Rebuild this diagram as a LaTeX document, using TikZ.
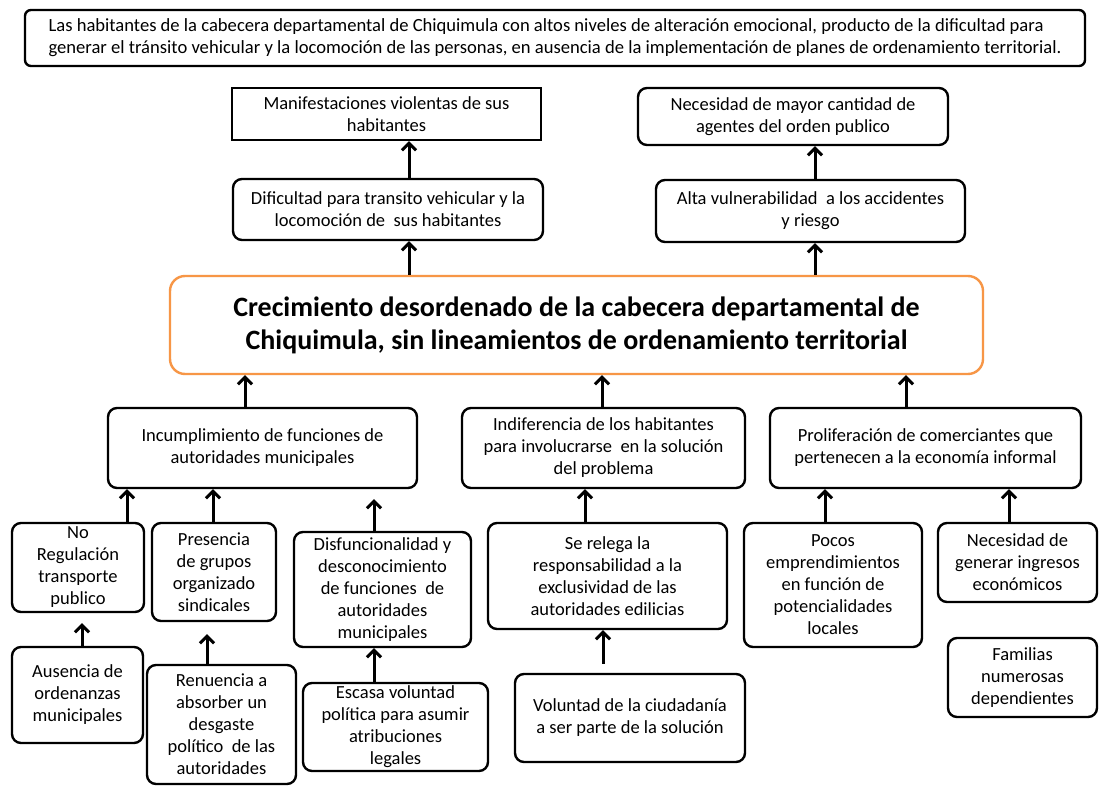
\documentclass[tikz,border=0pt]{standalone}
\usepackage{fontspec}
\setmainfont{Carlito}
\usetikzlibrary{arrows.meta}
\definecolor{boxorange}{RGB}{247,150,70}

\begin{document}
\begin{tikzpicture}
	[x=1pt,y=-1pt,
	 b/.style={draw=black,line width=2.4pt,rounded corners=9pt,align=center,inner sep=0pt,
	   font=\fontsize{18.5}{22}\selectfont},
	 up/.style={line width=3pt,-{Straight Barb[length=7pt,width=14pt]}}]

	\fill[white] (0,0) rectangle (1099,786);
	\useasboundingbox (0,0) rectangle (1099,786);

	% efectos
	\node[b,rounded corners=6pt,minimum width=1060pt,minimum height=56pt,align=left,
		font=\fontsize{18.6}{22}\selectfont]
		(top) at (555,38) {Las habitantes de la cabecera departamental de Chiquimula con altos niveles de alteración emocional, producto de la dificultad para\\
		generar el tránsito vehicular y la locomoción de las personas, en ausencia de la implementación de planes de ordenamiento territorial.};

	\node[b,sharp corners,minimum width=309pt,minimum height=52pt] (man) at (386.5,114)
		{Manifestaciones violentas de sus\\habitantes};
	\node[b,minimum width=310pt,minimum height=61pt] (dif) at (388,209.5)
		{Dificultad para transito vehicular y la\\locomoción de\ \ sus habitantes};
	\node[b,minimum width=310pt,minimum height=57pt] (nec) at (793,116.5)
		{Necesidad de mayor cantidad de\\agentes del orden publico};
	\node[b,minimum width=309pt,minimum height=62pt] (alt) at (810.5,211)
		{Alta vulnerabilidad\ \ a los accidentes\\y riesgo};

	% problema central
	\node[b,draw=boxorange,rounded corners=15pt,minimum width=813pt,minimum height=98pt,
		font=\bfseries\fontsize{28}{33}\selectfont] (cen) at (576.5,325)
		{Crecimiento desordenado de la cabecera departamental de\\
		Chiquimula, sin lineamientos de ordenamiento territorial};

	% causas
	\node[b,minimum width=309pt,minimum height=80pt] (inc) at (262.5,448)
		{Incumplimiento de funciones de\\autoridades municipales};
	\node[b,minimum width=283pt,minimum height=80pt] (ind) at (603.5,448)
		{Indiferencia de los habitantes\\para involucrarse\ \ en la solución\\del problema};
	\node[b,minimum width=311pt,minimum height=80pt] (pro) at (925.5,448)
		{Proliferación de comerciantes que\\pertenecen a la economía informal};

	\node[b,minimum width=132pt,minimum height=89pt] (noreg) at (78,567.5)
		{No\\Regulación\\transporte\\publico};
	\node[b,minimum width=124pt,minimum height=98pt] (pre) at (214,572)
		{Presencia\\de grupos\\organizado\\sindicales};
	\node[b,minimum width=177pt,minimum height=115pt] (dis) at (382.5,589.5)
		{Disfuncionalidad y\\desconocimiento\\de funciones\ \ de\\autoridades\\municipales};
	\node[b,minimum width=239pt,minimum height=106pt] (rel) at (607.5,576)
		{Se relega la\\responsabilidad a la\\exclusividad de las\\autoridades edilicias};
	\node[b,minimum width=178pt,minimum height=124pt] (poc) at (833,585)
		{Pocos\\emprendimientos\\en función de\\potencialidades\\locales};
	\node[b,minimum width=159pt,minimum height=79pt] (neg) at (1017.5,562.5)
		{Necesidad de\\generar ingresos\\económicos};

	\node[b,minimum width=131pt,minimum height=96pt] (aus) at (77.5,695)
		{Ausencia de\\ordenanzas\\municipales};
	\node[b,minimum width=149pt,minimum height=119pt] (ren) at (221.5,724.5)
		{Renuencia a\\absorber un\\desgaste\\político\ \ de las\\autoridades};
	\node[b,minimum width=185pt,minimum height=88pt] (esc) at (395.5,727)
		{Escasa voluntad\\política para asumir\\atribuciones\\legales};
	\node[b,minimum width=230pt,minimum height=88pt] (vol) at (630,718)
		{Voluntad de la ciudadanía\\a ser parte de la solución};
	\node[b,minimum width=149pt,minimum height=79pt] (fam) at (1022.5,677.5)
		{Familias\\numerosas\\dependientes};

	% flechas
	\foreach \px/\a/\b in {409/cen.north/dif.south, 409/dif.north/man.south,
		815/cen.north/alt.south, 815/alt.north/nec.south,
		245/inc.north/cen.south, 602/ind.north/cen.south, 906/pro.north/cen.south,
		127/noreg.north/inc.south, 213/pre.north/inc.south,
		585/rel.north/ind.south, 825/poc.north/pro.south, 1009/neg.north/pro.south,
		374/esc.north/dis.south}
		\draw[up] (\a -| \px,0) -- (\b -| \px,0);

	\draw[up,shorten >=10pt] (dis.north -| 374,0) -- (inc.south -| 374,0);
	\draw[up,shorten >=10pt] (aus.north -| 82,0) -- (noreg.south -| 82,0);
	\draw[up,shorten >=12pt] (ren.north -| 207,0) -- (pre.south -| 207,0);
	\draw[up,shorten <=9pt] (vol.north -| 603,0) -- (rel.south -| 603,0);

\end{tikzpicture}
\end{document}
